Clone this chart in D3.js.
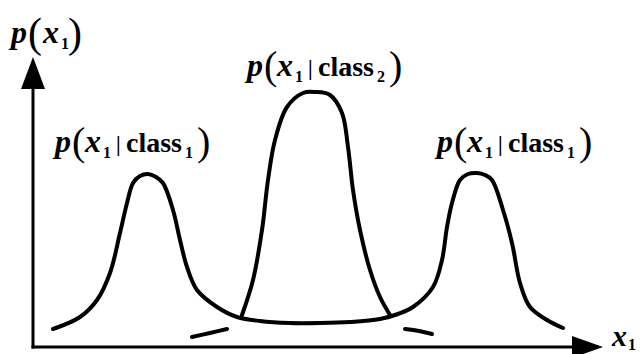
<!DOCTYPE html>
<html><head><meta charset="utf-8">
<script src="https://cdn.jsdelivr.net/npm/d3@7"></script>
<style>html,body{margin:0;padding:0;background:#fff}svg{display:block}</style>
</head><body>
<script>
// ---- data (abstract units) ----
const class1X = [4,9.4,12.8,15.4,17.4,18.8,20,21.4,23,24.6,26,28,29.4,30.8,32.8,36.8,40.8,45.4,51.4,57.4,63.4,69.4,73,76,80,81.8,82.8,83.8,85.4,87,88.8,90.4,91.8,94,95.8,97.4,99.4,102.8,106];
const class1Y = [3.6,6,9.4,14.8,22.8,28.8,32.8,34.2,34.6,34,32.8,27.4,21.4,16,11.4,8,6,5.2,4.8,4.8,5,5.6,6.6,8,12,17.4,24,28.8,33.4,34.6,34.8,34.4,33.4,27.4,20.8,12.8,8,5.4,3.8];
const class2X = [41.8,44,45.8,47,48.4,50.8,54,56.4,59.4,61.8,63,64,65.4,67.4,69.4,71.4];
const class2Y = [6.4,13.4,23.4,33.4,41.4,48,50.8,51,50.4,46.8,40,31.4,23.4,15.4,10,6.4];
const tailLeftX = [31.8,35.4,38.8];
const tailLeftY = [2,2.8,3.6];
const tailRightX = [74.4,77.2,79.8];
const tailRightY = [3.6,3.2,2.6];
const xMax = 114, yMax = 58;
const labelX = [4.4, 42.8, 80.8];
const labelY = [39, 54.2, 39];
const labelClass = ["1", "2", "1"];

const W = 641, H = 354;
const svg = d3.select("body").append("svg").attr("width", W).attr("height", H);
const x = d3.scaleLinear().domain([0, xMax]).range([33, 603]);
const y = d3.scaleLinear().domain([0, yMax]).range([347, 57]);

const zip = (a, b) => a.map((v, i) => [v, b[i]]);
const line = d3.line().x(d => x(d[0])).y(d => y(d[1])).curve(d3.curveCatmullRom.alpha(0.5));

// axes
svg.append("line").attr("x1", x(0)).attr("x2", x(0)).attr("y1", y(0) + 1.5).attr("y2", y(yMax) + 20)
  .attr("stroke", "#000").attr("stroke-width", 3);
svg.append("line").attr("x1", x(0) - 1.5).attr("x2", x(xMax) - 20).attr("y1", y(0)).attr("y2", y(0))
  .attr("stroke", "#000").attr("stroke-width", 3);
svg.append("path").attr("d", `M${x(0)},${y(yMax)} L${x(0)-12},${y(yMax)+32} L${x(0)+12},${y(yMax)+32} Z`).attr("fill", "#000");
svg.append("path").attr("d", `M${x(xMax)},${y(0)} L${x(xMax)-31},${y(0)-11} L${x(xMax)-31},${y(0)+11} Z`).attr("fill", "#000");

// curves
[[class1X, class1Y], [class2X, class2Y], [tailLeftX, tailLeftY], [tailRightX, tailRightY]].forEach(([a, b]) => {
  svg.append("path").attr("d", line(zip(a, b))).attr("fill", "none")
    .attr("stroke", "#000").attr("stroke-width", 4).attr("stroke-linecap", "round");
});

const font = "'Liberation Serif','Times New Roman',serif";
// piece: [text, dx from start, dy from baseline, size, italic, weight]
function piece(px, py, p) {
  svg.append("text").attr("x", px + p[1]).attr("y", py + p[2])
    .attr("font-family", font).attr("font-size", p[3])
    .attr("font-style", p[4] ? "italic" : "normal")
    .attr("font-weight", p[5]).attr("fill", "#000").text(p[0]);
}

// y-axis label p(x1)
[["p", 0, 0, 32, 1, "bold"], ["(", 17, 4, 42, 0, "normal"], ["x", 32, 0, 32, 1, "bold"],
 ["1", 50, 6, 16, 0, "bold"], [")", 57, 4, 42, 0, "normal"]].forEach(p => piece(11, 43, p));
// x-axis label
[["x", 0, 0, 30, 1, "bold"], ["1", 16, 4, 16, 0, "bold"]].forEach(p => piece(612, 346, p));

labelX.forEach((lx, i) => {
  const px = x(lx), py = y(labelY[i]);
  [["p", 0, 0, 32, 1, "bold"], ["(", 17, 3, 40, 0, "normal"], ["x", 30, 0, 32, 1, "bold"],
   ["1", 48, 6, 16, 0, "bold"], ["|", 61, -1, 21, 0, "bold"], ["class", 71, 0, 28, 0, "bold"],
   [labelClass[i], 130, 6, 16, 0, "bold"], [")", 142, 3, 40, 0, "normal"]].forEach(p => piece(px, py, p));
});
</script>
</body></html>
